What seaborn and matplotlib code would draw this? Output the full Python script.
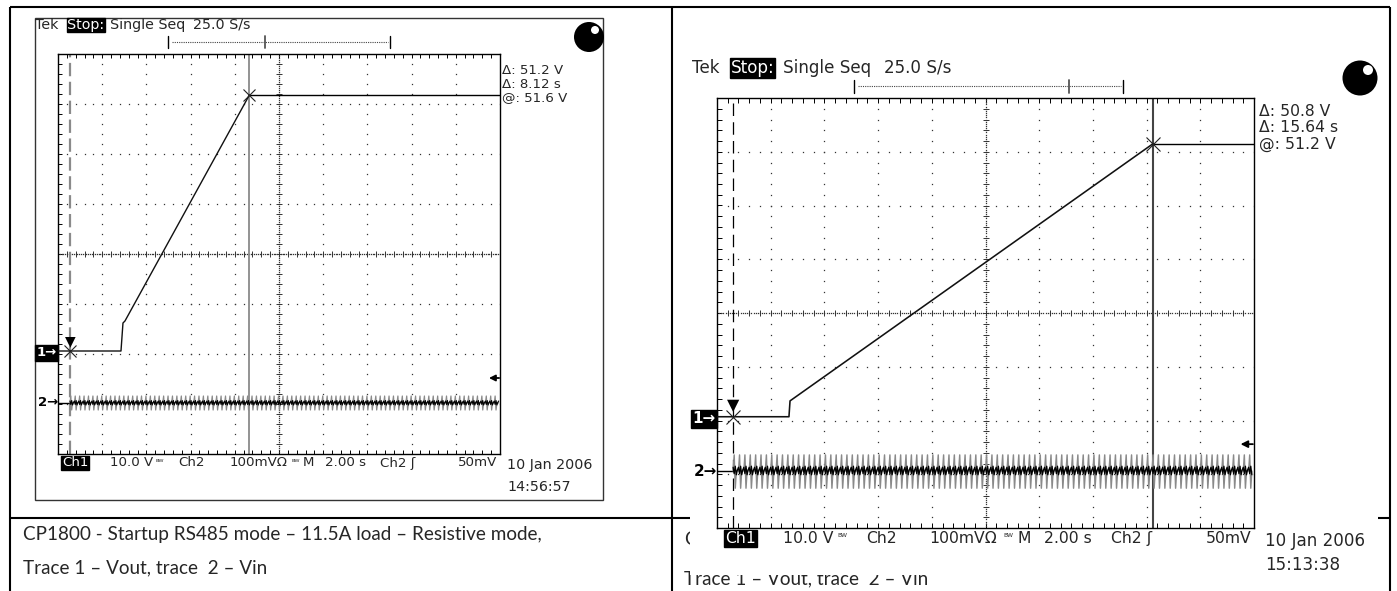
import numpy as np
import matplotlib
matplotlib.use("Agg")
import matplotlib.pyplot as plt
import seaborn as sns
from matplotlib.patches import Rectangle, Circle

sns.set_theme(style="white")
plt.rcParams['font.family'] = ['DejaVu Sans']

# ---------------- data ----------------
# time in seconds from the left edge of each screen (2 s/div, 10 div)
# Vout on Ch1 (10 V/div), Vin ripple on Ch2 (100 mV/div)
s1_trigger_t = 0.54
s1_vout_t = [0.0, 2.85, 2.94, 3.03, 8.66]
s1_vout_v = [0.4, 0.4, 6.0, 6.4, 51.6]
s1_cursor = {"dv": 51.2, "dt": 8.12, "at": 51.6}
s1_vin_env_mv = [0, 14, -14, 0, 1]      # one ripple cycle (gray)
s1_vin_core_mv = [4, -3, 5, -4, 1]      # one ripple cycle (black)
s1_date = ["10 Jan 2006", "14:56:57"]

s2_trigger_t = 0.60
s2_vout_t = [0.0, 2.68, 2.72, 16.24]
s2_vout_v = [0.4, 0.4, 3.35, 51.2]
s2_cursor = {"dv": 50.8, "dt": 15.64, "at": 51.2}
s2_vin_env_mv = [0, 30, -32, 0, 2]
s2_vin_core_mv = [7, -5, 9, -7, 2]
s2_date = ["10 Jan 2006", "15:13:38"]

sample_dt = 0.04          # 25.0 S/s
trig_level_mv = 50
caption_lines = ["CP1800 - Startup RS485 mode \u2013 11.5A load \u2013 Resistive mode,",
                 "Trace 1 \u2013 Vout, trace  2 \u2013 Vin"]
caption_right_visible = "C"   # rest of the right cell's first line is covered by the screenshot

W, H = 1397, 591
fig = plt.figure(figsize=(W / 100, H / 100), dpi=100)
fig.patch.set_facecolor("white")

bg = fig.add_axes([0, 0, 1, 1])
bg.set_xlim(0, W)
bg.set_ylim(H, 0)
bg.axis("off")

# ---------------- table ----------------
tl = dict(color="black", lw=1.5, solid_capstyle="butt")
bg.plot([10, 1390], [7, 7], **tl)
bg.plot([10, 10], [7, H], **tl)
bg.plot([1390, 1390], [7, H], **tl)
bg.plot([672, 672], [7, H], **tl)
bg.plot([10, 1390], [518, 518], **tl)

cap_font = ["Lato", "DejaVu Sans"]
bg.text(23, 540, caption_lines[0], fontsize=13.6, family=cap_font, va="baseline")
bg.text(23, 573, caption_lines[1], fontsize=13.6, family=cap_font, va="baseline")
bg.text(684, 545, caption_right_visible, fontsize=13.6, family=cap_font, va="baseline")
bg.text(684, 584, caption_lines[1], fontsize=13.6, family=cap_font, va="baseline")

# right screenshot background covers part of its cell
bg.add_patch(Rectangle((690, 9), 688, 566, facecolor="white", edgecolor="none", zorder=5))
# left screenshot frame
bg.add_patch(Rectangle((35, 18), 568, 482, facecolor="white", edgecolor="#333333", lw=1.0, zorder=5))


def px_rect(x, y, w, h):
    return [x / W, 1 - (y + h) / H, w / W, h / H]


def draw_scope(rect, trig_t, vout_t, vout_v, cur, env, core, v_bottom, mv_bottom,
               grid_col, cursor_col, dash_col, dash_lw, dash_pat, scale):
    ax = fig.add_axes(px_rect(*rect))
    ax.set_zorder(10)
    ax.set_facecolor("white")
    ax.set_xlim(0, 20)
    ax.set_ylim(v_bottom, v_bottom + 80)
    for s in ax.spines.values():
        s.set_color("black")
        s.set_linewidth(1.0)
        s.set_visible(True)
    ax.set_xticks(np.linspace(0, 20, 51))
    ax.set_yticks(np.linspace(v_bottom, v_bottom + 80, 41))
    ax.tick_params(direction="in", length=3 * scale, width=0.7, color="black",
                   bottom=True, top=True, left=True, right=True,
                   labelbottom=False, labelleft=False, labeltop=False, labelright=False)
    ax.grid(False)
    # graticule dots
    T = ax.transAxes
    dot = dict(ls="none", marker="s", ms=0.9, color=grid_col, transform=T, mew=0)
    ky = np.arange(0, 41) / 40
    kx = np.arange(0, 51) / 50
    for i in range(1, 10):
        if i != 5:
            ax.plot(np.full_like(ky, i / 10), ky, **dot)
    for j in range(1, 8):
        if j != 4:
            ax.plot(kx, np.full_like(kx, j / 8), **dot)
    fy_ = np.arange(0, 201) / 200
    fx_ = np.arange(0, 251) / 250
    ax.plot(np.full_like(fy_, 0.5), fy_, **dot)
    ax.plot(fx_, np.full_like(fx_, 0.5), **dot)
    ax.plot(np.full_like(ky, 0.5), ky, ls="none", marker="_", ms=4 * scale, mew=0.7,
            color=grid_col, transform=T)
    ax.plot(kx, np.full_like(kx, 0.5), ls="none", marker="|", ms=4 * scale, mew=0.7,
            color=grid_col, transform=T)

    # cursors
    t_cur = trig_t + cur["dt"]
    v_low = cur["at"] - cur["dv"]
    ax.axvline(trig_t, color=dash_col, lw=dash_lw, ls=(0, dash_pat), zorder=2)
    ax.axvline(t_cur, color=cursor_col, lw=1.3 * scale, zorder=2)
    ax.hlines(cur["at"], t_cur, 20, color="black", lw=1.0, zorder=3)

    # Vout trace
    sns.lineplot(x=vout_t, y=vout_v, ax=ax, color="#111111", lw=1.0 * scale,
                 estimator=None, sort=False, zorder=4)
    ax.plot([trig_t, t_cur], [v_low, cur["at"]], ls="none", marker="x",
            ms=9 * scale, mew=0.8, color="#222222", zorder=5)
    ax.annotate("\u25BC", xy=(trig_t, v_low), xytext=(0, 7 * scale), textcoords="offset points",
                ha="center", va="center", fontsize=10 * scale, color="black", zorder=6)
    ax.set_xlabel("")
    ax.set_ylabel("")

    # Vin ripple (Ch2)
    ax2 = ax.twinx()
    ax2.set_ylim(mv_bottom, mv_bottom + 800)
    ax2.set_yticks([])
    for s in ax2.spines.values():
        s.set_visible(False)
    n = int((20 - trig_t) / sample_dt)
    n_cyc = n // len(env) + 1
    tt = trig_t + np.arange(n) * sample_dt
    env_v = np.tile(env, n_cyc)[:n]
    core_v = np.tile(core, n_cyc)[:n]
    sns.lineplot(x=[0.0, trig_t], y=[0.0, 0.0], ax=ax2, color="black", lw=1.0,
                 estimator=None, sort=False)
    sns.lineplot(x=tt, y=env_v, ax=ax2, color="#8a8a8a", lw=0.9 * scale,
                 estimator=None, sort=False)
    sns.lineplot(x=tt, y=core_v, ax=ax2, color="black", lw=0.8 * scale,
                 estimator=None, sort=False)
    ax2.set_ylabel("")
    ax2.set_xlabel("")
    # ground markers and trigger level
    ax.annotate("1\u2192", xy=(0, 0), xycoords=ax.get_yaxis_transform(),
                xytext=(-1, 0), textcoords="offset points", ha="right", va="center",
                fontsize=9.5 * scale, color="white", fontweight="bold",
                bbox=dict(boxstyle="square,pad=0.1", fc="black", ec="black"))
    ax2.annotate("2\u2192", xy=(0, 0), xycoords=ax2.get_yaxis_transform(),
                 xytext=(0, 0), textcoords="offset points", ha="right", va="center",
                 fontsize=9.5 * scale, color="black", fontweight="bold")
    ax2.annotate("", xy=(0.975, trig_level_mv), xycoords=ax2.get_yaxis_transform(),
                 xytext=(0.998, trig_level_mv), textcoords=ax2.get_yaxis_transform(),
                 arrowprops=dict(arrowstyle="-|>", color="black", lw=1.3,
                                 mutation_scale=9 * scale, shrinkA=0, shrinkB=0))
    return ax, ax2


ax1, ax1b = draw_scope((58, 54, 442, 400), s1_trigger_t, s1_vout_t, s1_vout_v, s1_cursor,
                       s1_vin_env_mv, s1_vin_core_mv, -20.2, -102,
                       "#333333", "#8a8a8a", "#8a8a8a", 1.6, (6, 2.5), 1.0)
ax2, ax2b = draw_scope((717, 98, 537, 430), s2_trigger_t, s2_vout_t, s2_vout_v, s2_cursor,
                       s2_vin_env_mv, s2_vin_core_mv, -20.3, -106,
                       "#333333", "#444444", "black", 0.9, (10, 5), 1.15)


# ---------------- scope annotations ----------------
def scope_text(ox, oy, sx, sy, fsc, tick_x, readout_y, cur, date):
    def X(x):
        return ox + x * sx

    def Y(y):
        return oy + y * sy

    kw = dict(zorder=20, va="center", ha="left", family=["DejaVu Sans"])
    fs = 10.3 * fsc
    bg.text(X(0), Y(0), "Tek", fontsize=fs, **kw)
    bg.text(X(32), Y(0), "Stop:", fontsize=fs, color="white",
            bbox=dict(boxstyle="square,pad=0.03", fc="black", ec="black"), **kw)
    bg.text(X(75), Y(0), "Single Seq", fontsize=fs, **kw)
    bg.text(X(158), Y(0), "25.0 S/s", fontsize=fs, **kw)
    # record bracket
    bg.plot([X(137), X(353)], [Y(17), Y(17)], color="#444444", lw=0.8, ls=(0, (1, 1)), zorder=20)
    bg.plot([X(133), X(133)], [Y(11), Y(23)], color="black", lw=1.0, zorder=20)
    bg.plot([X(355), X(355)], [Y(11), Y(23)], color="black", lw=1.0, zorder=20)
    bg.plot([X(tick_x), X(tick_x)], [Y(11), Y(23)], color="#555555", lw=1.3, zorder=20)
    # readouts
    rx = X(467)
    fr = 9.6 * fsc
    bg.text(rx, readout_y[0], f"\u0394: {cur['dv']:.1f} V", fontsize=fr, **kw)
    bg.text(rx, readout_y[1], f"\u0394: {cur['dt']:g} s", fontsize=fr, **kw)
    bg.text(rx, readout_y[2], f"@: {cur['at']:.1f} V", fontsize=fr, **kw)
    # bottom line
    fb = 9.6 * fsc
    yb = Y(438)
    bg.text(X(27), yb, "Ch1", fontsize=fb, color="white",
            bbox=dict(boxstyle="square,pad=0.06", fc="black", ec="black"), **kw)
    bg.text(X(75), yb, "10.0 V", fontsize=fb, **kw)
    bg.text(X(120), yb - 1, "\u1d2e\u1d42", fontsize=fb * 0.6, **kw)
    bg.text(X(143), yb, "Ch2", fontsize=fb, **kw)
    bg.text(X(195), yb, "100mV\u03a9", fontsize=fb, **kw)
    bg.text(X(256), yb - 1, "\u1d2e\u1d42", fontsize=fb * 0.6, **kw)
    bg.text(X(268), yb, "M", fontsize=fb, **kw)
    bg.text(X(290), yb, "2.00 s", fontsize=fb, **kw)
    bg.text(X(345), yb, "Ch2 \u0283", fontsize=fb, **kw)
    bg.text(X(423), yb, "50mV", fontsize=fb, **kw)
    bg.text(X(472), Y(440), date[0], fontsize=fs, **kw)
    bg.text(X(472), Y(462), date[1], fontsize=fs, **kw)


scope_text(35, 25, 1.0, 1.0, 1.0, 230, (70, 84, 98), s1_cursor, s1_date)
scope_text(692, 68, 1.215, 1.075, 1.17, 310, (112, 128, 144), s2_cursor, s2_date)

# record indicator "eye"
bg.add_patch(Circle((589, 37), 15, fc="black", ec="none", zorder=20))
bg.add_patch(Circle((595, 30), 4, fc="white", ec="none", zorder=21))
bg.add_patch(Circle((1360, 78), 17.5, fc="black", ec="none", zorder=20))
bg.add_patch(Circle((1368, 70), 5, fc="white", ec="none", zorder=21))

fig.savefig("out.png", dpi=100, facecolor="white")
